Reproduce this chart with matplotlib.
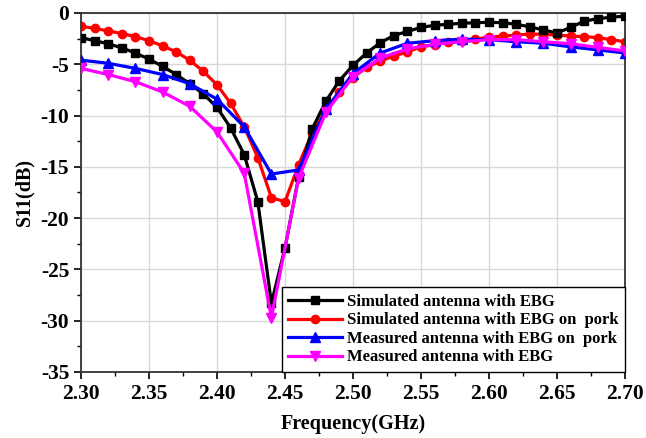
import matplotlib
matplotlib.use("Agg")
import matplotlib.pyplot as plt
from matplotlib.ticker import MultipleLocator
import numpy as np

# Simulated (every 0.01 GHz)
freq_sim = [2.30, 2.31, 2.32, 2.33, 2.34, 2.35, 2.36, 2.37, 2.38, 2.39,
            2.40, 2.41, 2.42, 2.43, 2.44, 2.45, 2.46, 2.47, 2.48, 2.49,
            2.50, 2.51, 2.52, 2.53, 2.54, 2.55, 2.56, 2.57, 2.58, 2.59,
            2.60, 2.61, 2.62, 2.63, 2.64, 2.65, 2.66, 2.67, 2.68, 2.69, 2.70]
sim_ebg = [-2.4, -2.7, -3.0, -3.4, -3.9, -4.5, -5.2, -6.0, -6.9, -7.9,
           -9.2, -11.2, -13.8, -18.4, -28.3, -22.9, -16.0, -11.3, -8.6, -6.6,
           -5.1, -3.9, -2.9, -2.2, -1.8, -1.4, -1.2, -1.1, -1.0, -0.95,
           -0.9, -0.95, -1.1, -1.35, -1.65, -1.95, -1.4, -0.8, -0.55, -0.42, -0.3]
sim_ebg_pork = [-1.3, -1.5, -1.75, -2.0, -2.3, -2.7, -3.2, -3.8, -4.6, -5.7,
                -7.0, -8.8, -11.1, -14.1, -18.0, -18.4, -14.8, -11.7, -9.5, -7.7,
                -6.3, -5.3, -4.7, -4.2, -3.8, -3.3, -3.1, -2.85, -2.7, -2.55,
                -2.35, -2.25, -2.15, -2.05, -2.08, -2.15, -2.25, -2.3, -2.4, -2.6, -2.8]

# Measured (every 0.02 GHz)
freq_meas = [2.30, 2.32, 2.34, 2.36, 2.38, 2.40, 2.42, 2.44, 2.46, 2.48,
             2.50, 2.52, 2.54, 2.56, 2.58, 2.60, 2.62, 2.64, 2.66, 2.68, 2.70]
meas_ebg_pork = [-4.6, -4.9, -5.4, -6.0, -6.9, -8.4, -11.1, -15.7, -15.3, -9.4,
                 -5.9, -3.9, -2.95, -2.7, -2.55, -2.6, -2.8, -2.95, -3.3, -3.6, -3.9]
meas_ebg = [-5.4, -6.0, -6.7, -7.7, -9.1, -11.6, -15.6, -29.7, -16.1, -9.7,
            -6.2, -4.4, -3.5, -3.05, -2.8, -2.6, -2.6, -2.8, -3.0, -3.35, -3.7]

labels = ["Simulated antenna with EBG",
          "Simulated antenna with EBG on  pork",
          "Measured antenna with EBG on  pork",
          "Measured antenna with EBG"]

plt.rcParams['font.family'] = ['Liberation Serif', 'DejaVu Serif']
plt.rcParams['font.weight'] = 'bold'
plt.rcParams['axes.unicode_minus'] = False

fig = plt.figure(figsize=(6.46, 4.38), dpi=100)
ax = fig.add_axes([81/646, 1-372/438, (625-81)/646, (372-13)/438])

lw = 2.3
ax.plot(freq_sim, sim_ebg, color='black', marker='s', ms=5.5, lw=lw, label=labels[0], zorder=3)
ax.plot(freq_sim, sim_ebg_pork, color='red', marker='o', ms=6, lw=lw, label=labels[1], zorder=2)
ax.plot(freq_meas, meas_ebg_pork, color='blue', marker='^', ms=7, lw=lw, label=labels[2], zorder=4)
ax.plot(freq_meas, meas_ebg, color='magenta', marker='v', ms=7, lw=lw, label=labels[3], zorder=5)

ax.set_xlim(2.30, 2.70)
ax.set_ylim(-35, 0)
ax.xaxis.set_minor_locator(MultipleLocator(0.025))
ax.yaxis.set_major_locator(MultipleLocator(5))
ax.yaxis.set_minor_locator(MultipleLocator(2.5))
ticks = np.round(np.arange(2.30, 2.701, 0.05), 2)
ax.set_xticks(ticks)
ax.set_xticklabels(["%.2f" % v for v in ticks])
ax.grid(True, which='major', color='#d8d8d8', lw=1.0)
ax.set_axisbelow(True)
ax.tick_params(axis='both', which='major', direction='out', length=5, width=1.2, labelsize=15.5)
ax.tick_params(axis='both', which='minor', direction='out', length=3, width=1.0)
for lab in ax.get_xticklabels() + ax.get_yticklabels():
    lab.set_fontweight('bold')
for s in ax.spines.values():
    s.set_linewidth(1.3)
    s.set_color('#333333')

ax.set_xlabel("Frequency(GHz)", fontsize=14.5, fontweight='bold', labelpad=7)
ax.set_ylabel("S11(dB)", fontsize=14.5, fontweight='bold', labelpad=4)

leg = ax.legend(loc='lower right', prop={'family': 'Liberation Serif', 'weight': 'bold', 'size': 12},
                frameon=True, fancybox=False, edgecolor='black', framealpha=1,
                borderaxespad=0.0, handlelength=3.2, labelspacing=0.15, borderpad=0.4,
                handletextpad=0.3)
leg.get_frame().set_linewidth(1.0)

fig.savefig("out.png", dpi=100)
